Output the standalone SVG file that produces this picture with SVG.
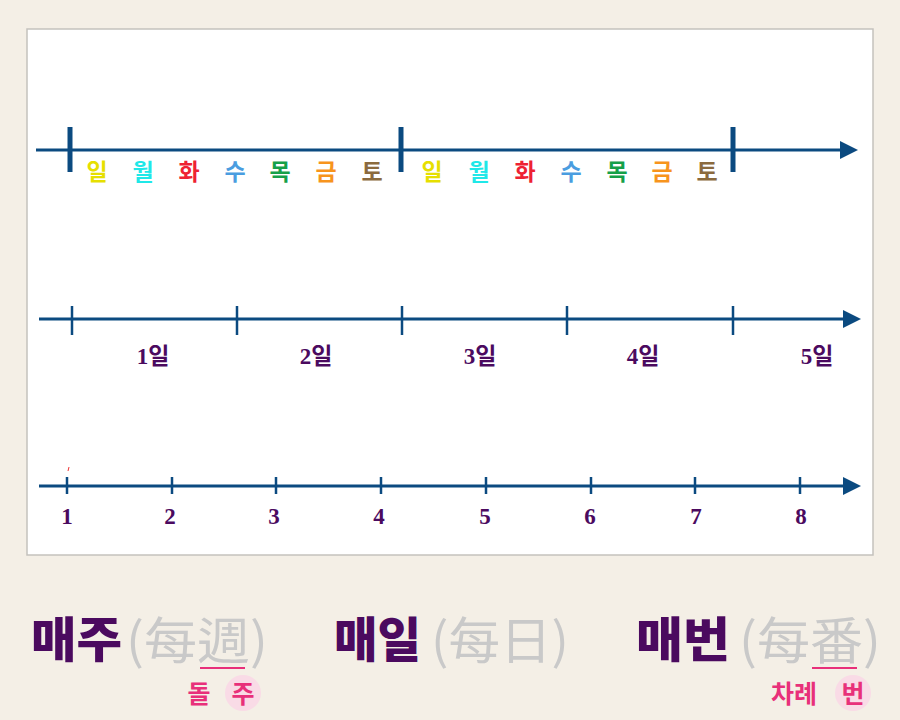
<svg xmlns="http://www.w3.org/2000/svg" width="900" height="720" viewBox="0 0 900 720">
<defs>
<style>
.ax{stroke:#0b4a80;stroke-width:3;fill:none}
.tk{stroke:#0b4a80;stroke-width:2.5}
.tkb{stroke:#0b4a80;stroke-width:5}
.day{font-family:"Noto Sans CJK KR","Noto Sans",sans-serif;font-weight:700;font-size:23px;text-anchor:middle}
.nl{font-family:"Liberation Serif","Noto Sans CJK KR",serif;font-weight:700;font-size:23px;fill:#4b0a5f;text-anchor:middle}
.big{font-family:"Noto Sans CJK KR",sans-serif;font-weight:900;font-size:48px;fill:#4b0a5f}
.han{font-family:"Noto Sans CJK KR",sans-serif;font-weight:400;font-size:50px;fill:#c9c9c9}
.pk{font-family:"Noto Sans CJK KR",sans-serif;font-weight:700;font-size:25px;fill:#e8307a;text-anchor:middle}
</style>
<marker id="ar" viewBox="0 0 10 10" refX="0" refY="5" markerWidth="6" markerHeight="6" markerUnits="strokeWidth" orient="auto">
<path d="M0,0 L10,5 L0,10 z" fill="#0b4a80"/>
</marker>
</defs>
<rect width="900" height="720" fill="#f4efe6"/>
<rect x="27" y="29" width="846" height="526" fill="#ffffff" stroke="#c4c2bd" stroke-width="1.5"/>

<g id="connectors">
<line class="ax" x1="36" y1="150" x2="840" y2="150" marker-end="url(#ar)"/>
<line class="ax" x1="39" y1="319" x2="843" y2="319" marker-end="url(#ar)"/>
<line class="ax" x1="39" y1="486" x2="843" y2="486" marker-end="url(#ar)"/>
</g>

<g id="week-line">
<line class="tkb" x1="70" y1="127" x2="70" y2="172"/>
<line class="tkb" x1="401" y1="127" x2="401" y2="172"/>
<line class="tkb" x1="733" y1="127" x2="733" y2="172"/>
<text class="day" x="97" y="180" fill="#e6df00">일</text>
<text class="day" x="143" y="180" fill="#1fe8e8">월</text>
<text class="day" x="189" y="180" fill="#ee2233">화</text>
<text class="day" x="235" y="180" fill="#4a9de0">수</text>
<text class="day" x="280" y="180" fill="#16a049">목</text>
<text class="day" x="326" y="180" fill="#f7941d">금</text>
<text class="day" x="372" y="180" fill="#8b6a3e">토</text>
<text class="day" x="432" y="180" fill="#e6df00">일</text>
<text class="day" x="479" y="180" fill="#1fe8e8">월</text>
<text class="day" x="525" y="180" fill="#ee2233">화</text>
<text class="day" x="571" y="180" fill="#4a9de0">수</text>
<text class="day" x="617" y="180" fill="#16a049">목</text>
<text class="day" x="662" y="180" fill="#f7941d">금</text>
<text class="day" x="707" y="180" fill="#8b6a3e">토</text>
</g>

<g id="day-line">
<line class="tk" x1="72" y1="306" x2="72" y2="335"/>
<line class="tk" x1="237" y1="306" x2="237" y2="335"/>
<line class="tk" x1="402" y1="306" x2="402" y2="335"/>
<line class="tk" x1="567" y1="306" x2="567" y2="335"/>
<line class="tk" x1="733" y1="306" x2="733" y2="335"/>
<text class="nl" x="153" y="364">1일</text>
<text class="nl" x="316" y="364">2일</text>
<text class="nl" x="480" y="364">3일</text>
<text class="nl" x="643" y="364">4일</text>
<text class="nl" x="817" y="364">5일</text>
</g>

<g id="number-line">
<line x1="68" y1="471" x2="69" y2="467" stroke="#e33" stroke-width="1"/>
<line class="tk" x1="67" y1="477" x2="67" y2="494"/>
<line class="tk" x1="172" y1="477" x2="172" y2="494"/>
<line class="tk" x1="276" y1="477" x2="276" y2="494"/>
<line class="tk" x1="381" y1="477" x2="381" y2="494"/>
<line class="tk" x1="486" y1="477" x2="486" y2="494"/>
<line class="tk" x1="591" y1="477" x2="591" y2="494"/>
<line class="tk" x1="695" y1="477" x2="695" y2="494"/>
<line class="tk" x1="800" y1="477" x2="800" y2="494"/>
<text class="nl" x="67" y="524">1</text>
<text class="nl" x="170" y="524">2</text>
<text class="nl" x="274" y="524">3</text>
<text class="nl" x="379" y="524">4</text>
<text class="nl" x="485" y="524">5</text>
<text class="nl" x="590" y="524">6</text>
<text class="nl" x="696" y="524">7</text>
<text class="nl" x="801" y="524">8</text>
</g>

<g id="maeju">
<text class="big" x="31" y="657" textLength="91" lengthAdjust="spacingAndGlyphs">매주</text>
<text class="han" x="126" y="659" textLength="142" lengthAdjust="spacingAndGlyphs">(每週)</text>
<line x1="200" y1="668" x2="245" y2="668" stroke="#e8307a" stroke-width="2"/>
<circle cx="243" cy="693" r="18" fill="#f9dbe6"/>
<text class="pk" x="199" y="703">돌</text>
<text class="pk" x="243" y="703">주</text>
</g>

<g id="maeil">
<text class="big" x="334" y="657" textLength="87" lengthAdjust="spacingAndGlyphs">매일</text>
<text class="han" x="431" y="659" textLength="138" lengthAdjust="spacingAndGlyphs">(每日)</text>
</g>

<g id="maebeon">
<text class="big" x="636" y="657" textLength="94" lengthAdjust="spacingAndGlyphs">매번</text>
<text class="han" x="739" y="659" textLength="142" lengthAdjust="spacingAndGlyphs">(每番)</text>
<line x1="812" y1="668" x2="857" y2="668" stroke="#e8307a" stroke-width="2"/>
<circle cx="853" cy="693" r="18" fill="#f9dbe6"/>
<text class="pk" x="794" y="703">차례</text>
<text class="pk" x="853" y="703">번</text>
</g>
</svg>
